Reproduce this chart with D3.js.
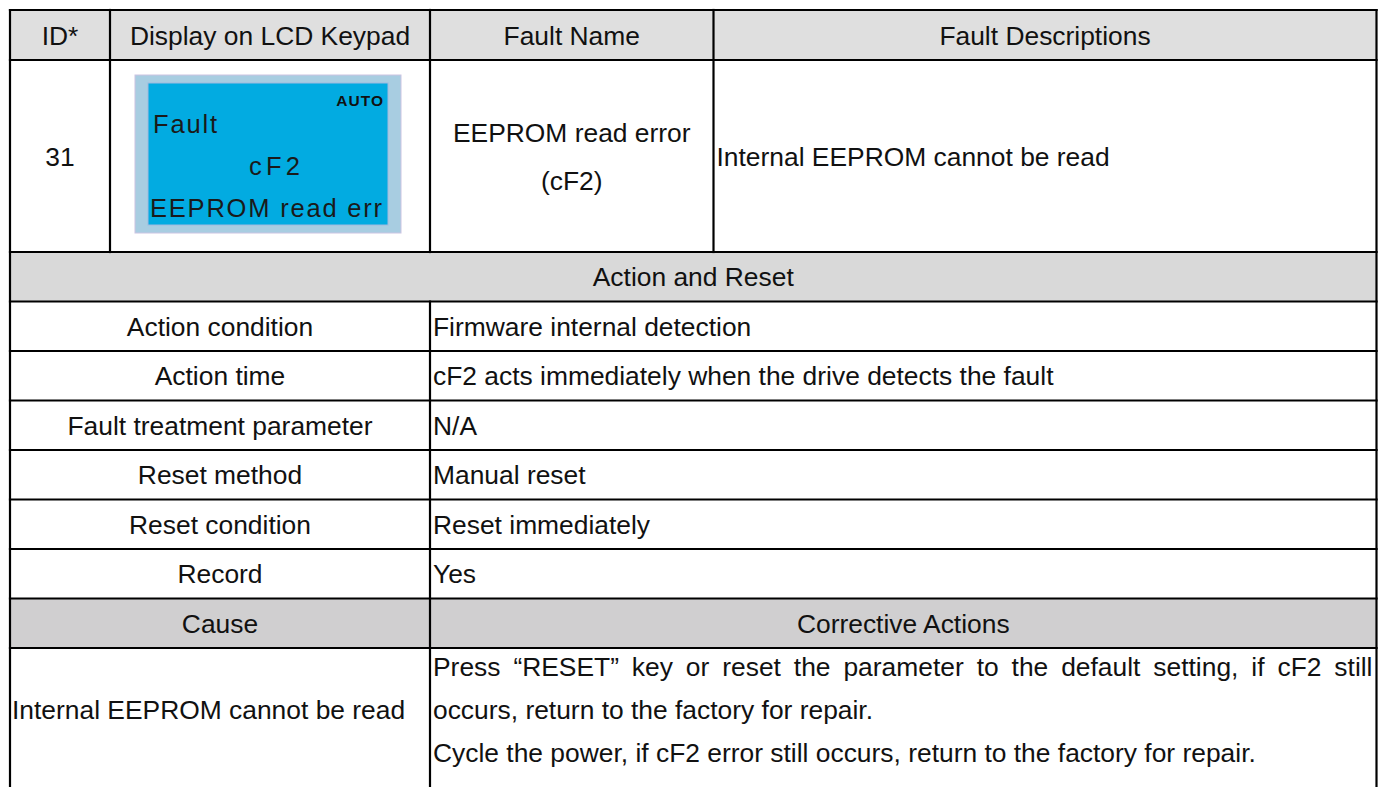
<!DOCTYPE html>
<html><head><meta charset="utf-8">
<script src="https://cdn.jsdelivr.net/npm/d3@7"></script>
<style>
body{margin:0;background:#fff}
svg{display:block}
text{font-family:"Liberation Sans",Arial,sans-serif;fill:#111}
</style>
</head><body>
<svg id="c" width="1378" height="787"></svg>
<script>
// ---- data ----
const headers = ["ID*", "Display on LCD Keypad", "Fault Name", "Fault Descriptions"];
const faultId = "31";
const lcdMode = "AUTO";
const lcdLines = ["Fault", "cF2", "EEPROM read err"];
const faultName = ["EEPROM read error", "(cF2)"];
const faultDesc = "Internal EEPROM cannot be read";
const sectionTitle = "Action and Reset";
const actionLabels = ["Action condition", "Action time", "Fault treatment parameter", "Reset method", "Reset condition", "Record"];
const actionValues = ["Firmware internal detection", "cF2 acts immediately when the drive detects the fault", "N/A", "Manual reset", "Reset immediately", "Yes"];
const causeHeaders = ["Cause", "Corrective Actions"];
const causes = ["Internal EEPROM cannot be read"];
const correctiveLines = [
  "Press \u201cRESET\u201d key or reset the parameter to the default setting, if cF2 still",
  "occurs, return to the factory for repair.",
  "Cycle the power, if cF2 error still occurs, return to the factory for repair."
];

// ---- layout ----
const X = [10, 110, 430, 713.5, 1376.5];
const rowH = [50, 192, 49.5, 49.5, 49.5, 49.5, 49.5, 49.5, 49.5, 49.5];
const Y = [10];
rowH.forEach(h => Y.push(Y[Y.length - 1] + h));
const bottom = 800;
const FS = 26.4;
const svg = d3.select("#c");
const gBg = svg.append("g"), gTx = svg.append("g"), gLn = svg.append("g");

// backgrounds
const bands = [
  {y0: Y[0], y1: Y[1], fill: "#dfdfdf"},
  {y0: Y[2], y1: Y[3], fill: "#d9d9d9"},
  {y0: Y[9], y1: Y[10], fill: "#d0cfd0"}
];
gBg.selectAll("rect.band").data(bands).join("rect")
  .attr("x", X[0]).attr("width", X[4] - X[0])
  .attr("y", d => d.y0).attr("height", d => d.y1 - d.y0)
  .attr("fill", d => d.fill);

function txt(s, x, y, anchor) {
  return gTx.append("text").text(s).attr("x", x).attr("y", y)
    .attr("text-anchor", anchor || "start").style("font-size", FS + "px");
}
const base = (a, b) => (a + b) / 2 + FS * 0.36;

// header row
headers.forEach((h, i) => txt(h, (X[i] + X[i + 1]) / 2, base(Y[0], Y[1]), "middle"));

// fault row
txt(faultId, (X[0] + X[1]) / 2, base(Y[1], Y[2]), "middle");
const fc = (X[2] + X[3]) / 2, mid = (Y[1] + Y[2]) / 2;
faultName.forEach((s, i) => txt(s, fc, base(mid, mid) + (i - 0.5) * 48, "middle"));
txt(faultDesc, X[3] + 3, base(Y[1], Y[2]), "start");

// LCD
const lcd = gTx.append("g");
lcd.append("rect").attr("x", 135).attr("y", 75).attr("width", 266).attr("height", 158)
  .attr("fill", "#a8cde1").attr("stroke", "#cbc4e2").attr("stroke-width", 1);
lcd.append("rect").attr("x", 148).attr("y", 83).attr("width", 240).attr("height", 142)
  .attr("fill", "#02abe1").attr("stroke", "#9fb9df").attr("stroke-width", 1);
lcd.append("text").text(lcdMode).attr("x", 384).attr("y", 106).attr("text-anchor", "end")
  .style("font-size", "15.5px").style("font-weight", "bold").style("letter-spacing", "1px");
const lcdPos = [{x: 153, y: 133, w: 64}, {x: 249, y: 175, w: 51}, {x: 150, y: 217, w: 232}];
lcdLines.forEach((s, i) => lcd.append("text").text(s)
  .attr("x", lcdPos[i].x).attr("y", lcdPos[i].y)
  .attr("textLength", lcdPos[i].w).attr("lengthAdjust", "spacing")
  .style("font-size", "25.5px").style("fill", "#1a1a1a"));

// section title
txt(sectionTitle, (X[0] + X[4]) / 2, base(Y[2], Y[3]), "middle");

// action rows
actionLabels.forEach((s, i) => {
  txt(s, (X[0] + X[2]) / 2, base(Y[3 + i], Y[4 + i]), "middle");
  txt(actionValues[i], X[2] + 3, base(Y[3 + i], Y[4 + i]), "start");
});

// cause header
txt(causeHeaders[0], (X[0] + X[2]) / 2, base(Y[9], Y[10]), "middle");
txt(causeHeaders[1], (X[2] + X[4]) / 2, base(Y[9], Y[10]), "middle");

// cause row
txt(causes[0], X[0] + 2, 719, "start");
const lineBase = [676, 719, 762];
correctiveLines.forEach((s, i) => {
  const t = txt(s, X[2] + 3, lineBase[i], "start");
  if (i === 0) {
    const target = X[4] - 4 - (X[2] + 3);
    const len = t.node().getComputedTextLength();
    const spaces = (s.match(/ /g) || []).length;
    t.style("word-spacing", ((target - len) / spaces) + "px");
  }
});

// grid lines
const lines = [];
Y.forEach(y => lines.push({x1: X[0], x2: X[4], y1: y, y2: y}));
lines.push({x1: X[0], x2: X[0], y1: Y[0], y2: bottom});
lines.push({x1: X[4], x2: X[4], y1: Y[0], y2: bottom});
[1, 2, 3].forEach(i => lines.push({x1: X[i], x2: X[i], y1: Y[0], y2: Y[2]}));
lines.push({x1: X[2], x2: X[2], y1: Y[3], y2: bottom});
gLn.selectAll("line").data(lines).join("line")
  .attr("x1", d => d.x1).attr("x2", d => d.x2).attr("y1", d => d.y1).attr("y2", d => d.y2)
  .attr("stroke", "#000").attr("stroke-width", 2.2).attr("stroke-linecap", "square");
</script>
</body></html>
